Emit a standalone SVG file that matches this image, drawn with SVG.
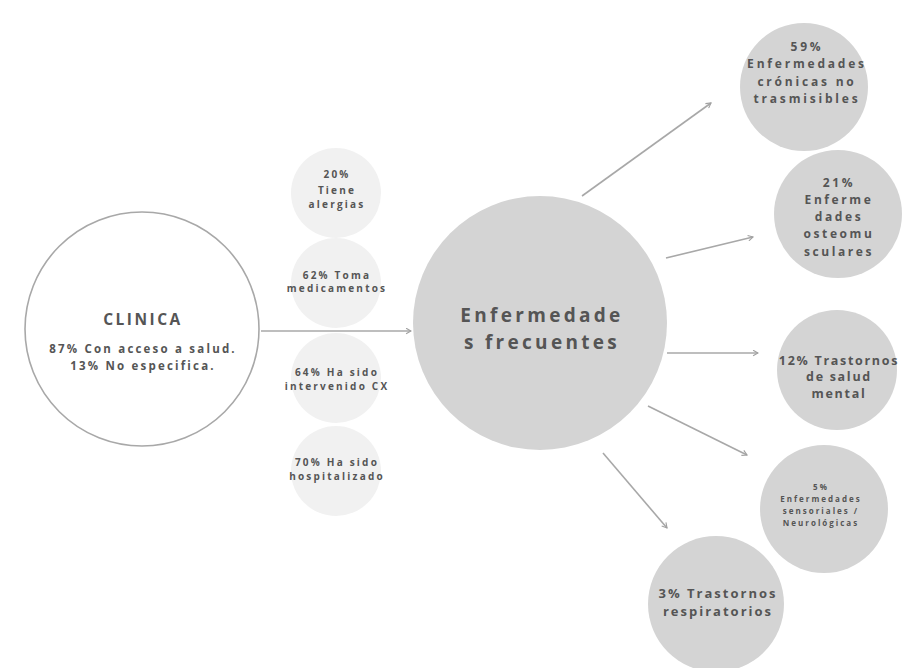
<svg xmlns="http://www.w3.org/2000/svg" width="904" height="668" viewBox="0 0 904 668">
<style>
text{font-family:"Open Sans","DejaVu Sans",sans-serif;font-weight:700;fill:#555;text-anchor:middle}
.conn{stroke:#a8a8a8;stroke-width:1.6;fill:none}
.big{fill:#d4d4d4}
.small{fill:#f1f1f1}
.s{font-size:10px;letter-spacing:2.2px}
</style>
<defs>
<marker id="ah" viewBox="0 0 10 10" refX="8" refY="5" markerWidth="7" markerHeight="7" orient="auto" markerUnits="userSpaceOnUse">
<path d="M1,1 L8,5 L1,9" fill="none" stroke="#a0a0a0" stroke-width="1.6"/>
</marker>
</defs>
<rect width="904" height="668" fill="#fff"/>
<g id="connectors">
<line class="conn" x1="261" y1="331" x2="411" y2="331" marker-end="url(#ah)"/>
<line class="conn" x1="582" y1="196" x2="711" y2="103" marker-end="url(#ah)"/>
<line class="conn" x1="666" y1="258" x2="753" y2="237" marker-end="url(#ah)"/>
<line class="conn" x1="667" y1="353" x2="758" y2="353" marker-end="url(#ah)"/>
<line class="conn" x1="648" y1="406" x2="747" y2="455" marker-end="url(#ah)"/>
<line class="conn" x1="603" y1="453" x2="667" y2="528" marker-end="url(#ah)"/>
</g>
<g id="clinica">
<circle cx="142" cy="329" r="117" fill="#fff" stroke="#a8a8a8" stroke-width="1.6"/>
<text x="143" y="325" font-size="15.5" letter-spacing="2.5">CLINICA</text>
<text x="143" y="353" font-size="11.5" letter-spacing="2.2">87% Con acceso a salud.</text>
<text x="143" y="370" font-size="11.5" letter-spacing="2.2">13% No especifica.</text>
</g>
<g id="alergias">
<circle class="small" cx="336" cy="193" r="45"/>
<text class="s" x="337" y="178">20%</text>
<text class="s" x="337" y="194">Tiene</text>
<text class="s" x="337" y="208">alergias</text>
</g>
<g id="medicamentos">
<circle class="small" cx="336" cy="283" r="45"/>
<text class="s" x="337" y="279">62% Toma</text>
<text class="s" x="337" y="292">medicamentos</text>
</g>
<g id="intervenido">
<circle class="small" cx="336" cy="378" r="45"/>
<text class="s" x="337" y="376">64% Ha sido</text>
<text class="s" x="337" y="390">intervenido CX</text>
</g>
<g id="hospitalizado">
<circle class="small" cx="336" cy="471" r="45"/>
<text class="s" x="337" y="466">70% Ha sido</text>
<text class="s" x="337" y="480">hospitalizado</text>
</g>
<g id="enfermedades">
<circle class="big" cx="540" cy="323" r="127"/>
<text x="542" y="322" font-size="19" letter-spacing="3.3">Enfermedade</text>
<text x="542" y="349" font-size="19" letter-spacing="3.3">s frecuentes</text>
</g>
<g id="cronicas">
<circle class="big" cx="804" cy="87" r="64"/>
<text x="807" y="51" font-size="12" letter-spacing="2.8">59%</text>
<text x="807" y="68" font-size="12" letter-spacing="2.8">Enfermedades</text>
<text x="807" y="86" font-size="12" letter-spacing="2.8">crónicas no</text>
<text x="807" y="103" font-size="12" letter-spacing="2.8">trasmisibles</text>
</g>
<g id="osteomusculares">
<circle class="big" cx="838" cy="214" r="64"/>
<text x="839" y="187" font-size="12" letter-spacing="2.6">21%</text>
<text x="839" y="204" font-size="12" letter-spacing="2.6">Enferme</text>
<text x="839" y="221" font-size="12" letter-spacing="2.6">dades</text>
<text x="839" y="238" font-size="12" letter-spacing="2.6">osteomu</text>
<text x="839" y="256" font-size="12" letter-spacing="2.6">sculares</text>
</g>
<g id="mental">
<circle class="big" cx="837" cy="370" r="60"/>
<text x="839" y="365" font-size="12.5" letter-spacing="1.7">12% Trastornos</text>
<text x="839" y="381" font-size="12.5" letter-spacing="1.7">de salud</text>
<text x="839" y="398" font-size="12.5" letter-spacing="1.7">mental</text>
</g>
<g id="sensoriales">
<circle class="big" cx="824" cy="509" r="64"/>
<text x="821" y="490" font-size="8" letter-spacing="2">5%</text>
<text x="821" y="502" font-size="8" letter-spacing="2">Enfermedades</text>
<text x="821" y="514" font-size="8" letter-spacing="2">sensoriales /</text>
<text x="821" y="526" font-size="8" letter-spacing="2">Neurológicas</text>
</g>
<g id="respiratorios">
<circle class="big" cx="716" cy="604" r="68"/>
<text x="718" y="598" font-size="13" letter-spacing="2">3% Trastornos</text>
<text x="718" y="616" font-size="13" letter-spacing="2">respiratorios</text>
</g>
</svg>
